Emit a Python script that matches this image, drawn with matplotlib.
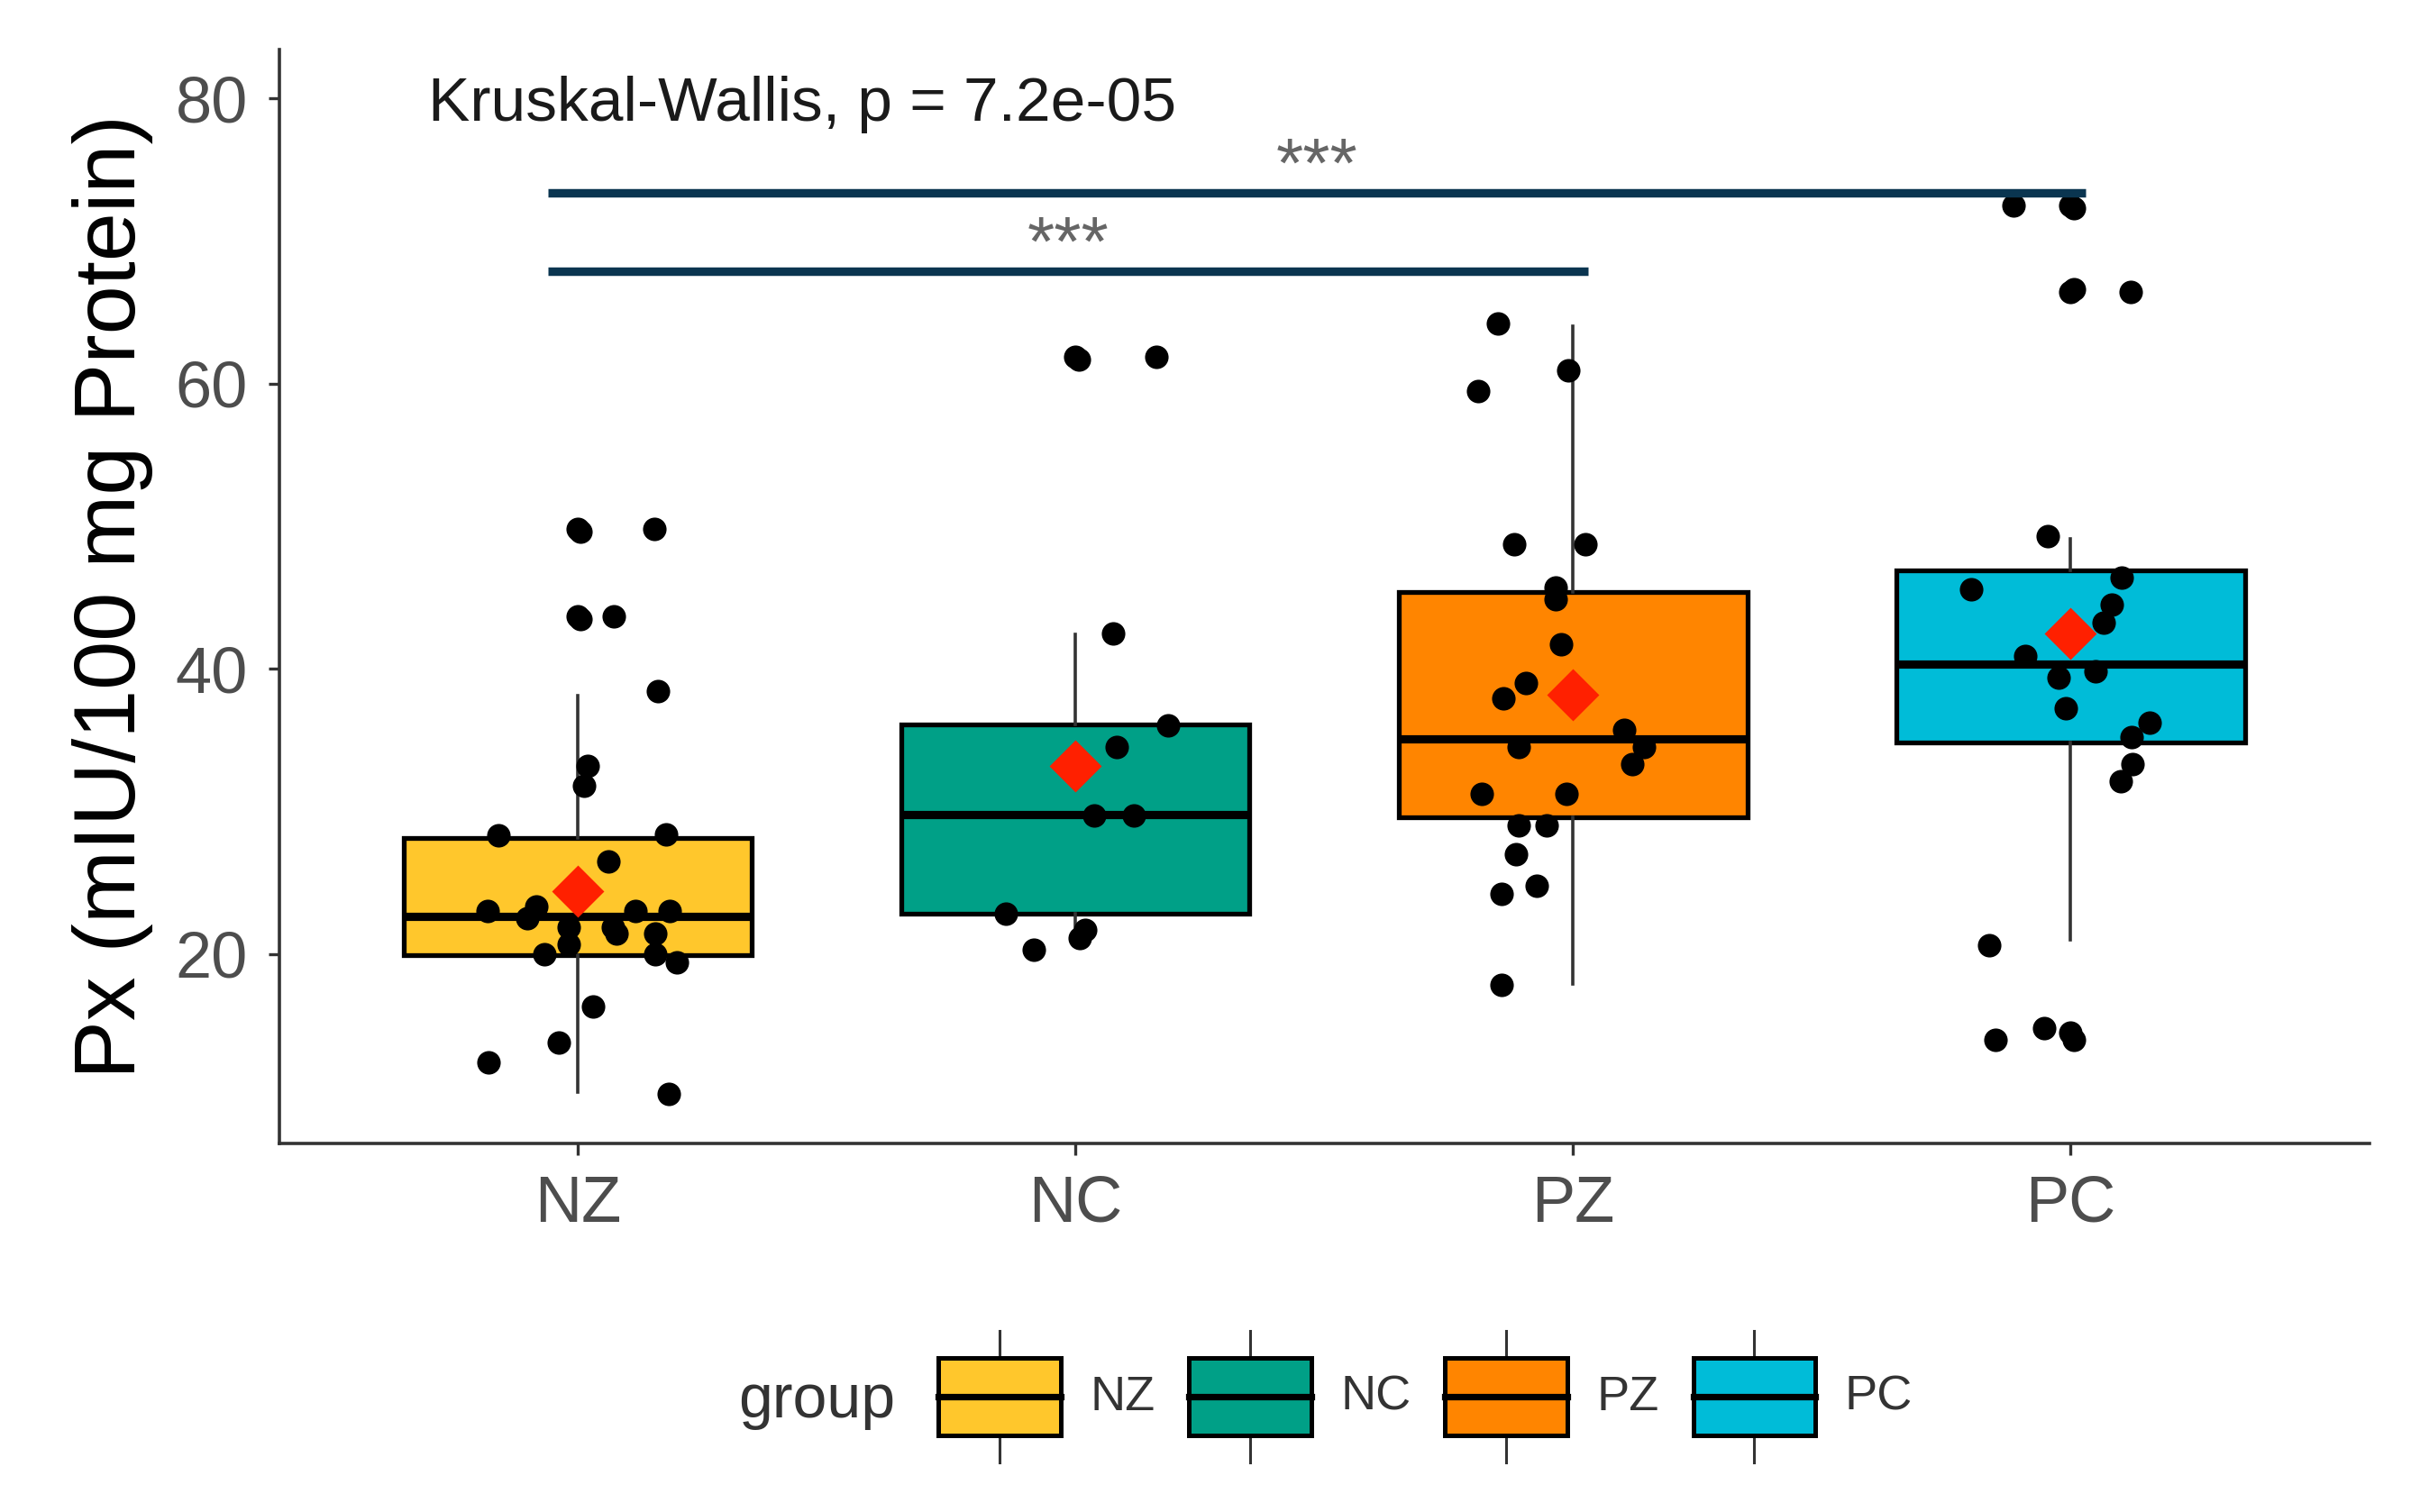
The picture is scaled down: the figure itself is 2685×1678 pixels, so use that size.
import matplotlib
matplotlib.use("Agg")
import matplotlib.pyplot as plt
import numpy as np
from matplotlib.patches import Patch, Rectangle
from matplotlib.lines import Line2D
from matplotlib.legend_handler import HandlerBase

plt.rcParams["font.family"] = ["Liberation Sans", "DejaVu Sans"]

# Gruppen und Farben
groups = ["NZ", "NC", "PZ", "PC"]
colors = ["#FFC72C", "#00A087", "#FF8500", "#00BCD8"]

# Boxplot-Kennwerte
q1 = [19.9, 22.8, 29.6, 34.8]
medians = [22.6, 29.8, 35.1, 40.3]
q3 = [28.1, 36.1, 45.4, 46.9]
whisker_lo = [10.3, 20.6, 17.9, 21.0]
whisker_hi = [38.1, 42.4, 64.0, 49.1]
means = [24.4, 33.2, 38.2, 42.5]

# Einzelwerte + Jitter
nz_values = [49.8, 49.6, 49.8, 43.7, 43.5, 43.7, 38.4, 33.2, 31.8, 28.3, 28.4, 26.5, 23.0, 23.3,
             22.5, 23.0, 23.0, 21.9, 21.4, 21.9, 20.7, 21.4, 20.0, 20.0, 19.4, 16.3, 13.8, 12.4, 10.2]
nz_jitter = [0.0, 0.006, 0.154, 0.0, 0.006, 0.073, 0.161, 0.019, 0.012, -0.159, 0.177, 0.062, -0.181, -0.084,
             -0.102, 0.116, 0.184, 0.071, 0.078, -0.019, -0.019, 0.156, -0.068, 0.156, 0.199, 0.031, -0.038, -0.18, 0.183]

nc_values = [61.9, 61.7, 61.9, 42.5, 36.0, 34.5, 29.7, 29.7, 22.8, 21.7, 21.1, 20.3]
nc_jitter = [0.0, 0.006, 0.163, 0.076, 0.187, 0.083, 0.038, 0.118, -0.14, 0.02, 0.008, -0.083]

pz_values = [64.2, 60.9, 59.5, 48.7, 48.7, 45.7, 44.9, 41.7, 39.0, 37.9, 35.7, 34.5, 34.5, 33.3,
             31.2, 31.2, 29.0, 29.0, 27.0, 24.8, 24.2, 17.8]
pz_jitter = [-0.151, -0.009, -0.191, -0.118, 0.024, -0.035, -0.035, -0.024, -0.094, -0.14, 0.103, 0.143, -0.109, 0.119,
             -0.183, -0.014, -0.109, -0.053, -0.115, -0.073, -0.144, -0.144]

pc_values = [72.5, 72.5, 72.3, 66.4, 66.6, 66.4, 49.3, 45.6, 46.4, 44.5, 43.2, 40.9, 39.4, 39.8,
             37.2, 36.2, 35.2, 33.3, 32.1, 20.6, 14.0, 14.8, 14.5, 14.0]
pc_jitter = [-0.114, 0.0, 0.006, 0.0, 0.006, 0.121, -0.046, -0.199, 0.102, 0.083, 0.066, -0.092, -0.024, 0.05,
             -0.01, 0.159, 0.122, 0.125, 0.1, -0.163, -0.151, -0.053, 0.0, 0.006]

values = [nz_values, nc_values, pz_values, pc_values]
jitters = [nz_jitter, nc_jitter, pz_jitter, pc_jitter]

# Signifikanz-Klammern
comparisons = [("NZ", "PC"), ("NZ", "PZ")]
bracket_y = [73.4, 67.9]
bracket_labels = ["***", "***"]
kw_text = "Kruskal-Wallis, p = 7.2e-05"


class BoxKeyHandler(HandlerBase):
    def create_artists(self, legend, orig_handle, xdescent, ydescent, width, height, fontsize, trans):
        bh = height * 0.59
        x0 = -xdescent
        y0 = -ydescent + (height - bh) / 2
        cx = x0 + width / 2
        rect = Rectangle((x0, y0), width, bh, facecolor=orig_handle.get_facecolor(),
                         edgecolor="black", lw=1.8, transform=trans)
        med = Line2D([x0, x0 + width], [y0 + bh / 2] * 2, color="black", lw=2.6, transform=trans)
        wt = Line2D([cx, cx], [y0 + bh, -ydescent + height], color="#333333", lw=1.1, transform=trans)
        wb = Line2D([cx, cx], [-ydescent, y0], color="#333333", lw=1.1, transform=trans)
        return [wt, wb, rect, med]


fig = plt.figure(figsize=(13.425, 8.39), dpi=200)
ax = fig.add_axes([0.1154, 0.2437, 0.8636, 0.7233])

positions = np.arange(1, len(groups) + 1)
stats = []
for i, g in enumerate(groups):
    stats.append({"label": g, "q1": q1[i], "med": medians[i], "q3": q3[i],
                  "whislo": whisker_lo[i], "whishi": whisker_hi[i], "fliers": []})

bp = ax.bxp(stats, positions=positions, widths=0.7, patch_artist=True, showfliers=False,
            showcaps=False,
            boxprops=dict(edgecolor="black", linewidth=1.9),
            medianprops=dict(color="black", linewidth=3.3),
            whiskerprops=dict(color="#333333", linewidth=1.3))
for patch, c in zip(bp["boxes"], colors):
    patch.set_facecolor(c)

# Punkte
for p, v, j in zip(positions, values, jitters):
    ax.plot(p + np.array(j), v, "o", color="black", markersize=8.4, zorder=3)

# Mittelwerte
ax.plot(positions, means, "D", color="#FF2000", markersize=14, zorder=4)

# Klammern
for (a, b), y, lab in zip(comparisons, bracket_y, bracket_labels):
    xa = groups.index(a) + 1 - 0.06
    xb = groups.index(b) + 1 + 0.03
    ax.plot([xa, xb], [y, y], color="#0A3550", lw=3.4, solid_capstyle="butt", zorder=5)
    ax.text((xa + xb) / 2, y + 0.4, lab, ha="center", va="baseline", fontsize=28, color="#666666")

ax.text(0.70, 79.6, kw_text, ha="left", va="center", fontsize=25, color="#1A1A1A")

ax.set_xlim(0.4, 4.6)
ax.set_ylim(6.7, 83.4)
ax.set_xticks(positions)
ax.set_xticklabels(groups)
ax.set_yticks([20, 40, 60, 80])
ax.set_ylabel("Px (mIU/100 mg Protein)", fontsize=35, labelpad=9)
ax.tick_params(axis="both", labelsize=26, labelcolor="#4D4D4D", color="#333333",
               length=4.5, width=1.2, pad=8)
for s in ["top", "right"]:
    ax.spines[s].set_visible(False)
for s in ["left", "bottom"]:
    ax.spines[s].set_color("#333333")
    ax.spines[s].set_linewidth(1.3)

# Legende
handles = [Patch(facecolor=c, label=g) for g, c in zip(groups, colors)]
fig.legend(handles=handles, handler_map={Patch: BoxKeyHandler()}, loc="center",
           bbox_to_anchor=(0.589, 0.0763), ncol=4, frameon=False, fontsize=19.5,
           handlelength=2.5, handleheight=3.75, handletextpad=0.6, columnspacing=0.7,
           borderpad=0, labelcolor="#333333")
fig.text(0.305, 0.0733, "group", ha="left", va="center", fontsize=24.5, color="#333333")

fig.savefig("out.png", dpi=200)
